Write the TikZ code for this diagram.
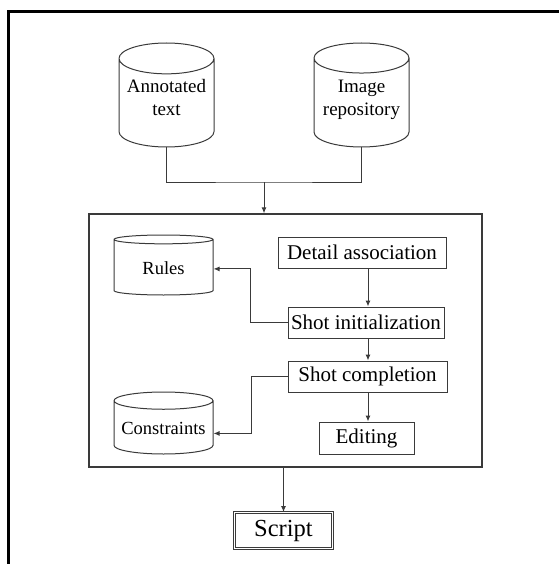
\documentclass[tikz,border=0pt]{standalone}
\usepackage{fontspec}
\setmainfont{Liberation Serif}
\usetikzlibrary{arrows.meta, positioning, calc, shapes.geometric}
\definecolor{linegray}{HTML}{3A3A3A}

\begin{document}
\begin{tikzpicture}[
    x=1pt, y=-1pt,
    >={Latex[length=6pt, width=5pt]},
    stage/.style = {draw=linegray, line width=1pt, minimum height=31pt, inner sep=2pt, font=\fontsize{21}{24}\selectfont},
    store/.style = {draw=linegray, line width=1pt, cylinder, shape border rotate=90, anchor=shape center, align=center, inner sep=1pt},
    flow/.style  = {->, draw=linegray, line width=1pt}
]
    \useasboundingbox (0,0) rectangle (559,564);

    % page frame
    \draw[line width=3pt] (8,564) -- (8,12) -- (559,12);

    \node[store, aspect=0.38, minimum width=95pt, minimum height=104pt, text depth=14pt, font=\fontsize{19}{23}\selectfont] (annot) at (166.5,95) {Annotated\\text};
    \node[store, aspect=0.38, minimum width=95pt, minimum height=104pt, text depth=14pt, font=\fontsize{19}{23}\selectfont] (imgrepo) at (361.5,95) {Image\\repository};

    \node[draw=linegray, line width=1.3pt, minimum width=393pt, minimum height=253pt] (core) at (285.5,340.5) {};

    \node[stage, minimum width=168pt] (detail) at (362,252.5) {Detail association};
    \node[stage, minimum width=156pt] (init) at (366,322.5) {Shot initialization};
    \node[stage, minimum width=159pt] (complete) at (367.5,376.5) {Shot completion};
    \node[stage, minimum width=95pt, minimum height=32pt] (edit) at (366.5,438) {Editing};

    \node[store, aspect=0.2, minimum width=99pt, minimum height=60pt, font=\fontsize{18.5}{22}\selectfont] (rules) at (163.5,265) {Rules};
    \node[store, aspect=0.2, minimum width=99pt, minimum height=62pt, font=\fontsize{18.5}{22}\selectfont] (cons) at (163.5,423) {Constraints};

    \node[draw=linegray, double, double distance=1.5pt, line width=0.8pt, minimum width=98pt, minimum height=36pt, font=\fontsize{24.5}{28}\selectfont] (script) at (283.5,530.5) {Script};

    % merge of the two stores
    \coordinate (merge) at (264,182);
    \draw[linegray, line width=1pt] (annot.south) |- (merge) -| (imgrepo.south);
    \draw[flow] (merge) -- (merge |- core.north);

    % main chain
    \coordinate (spine) at (368,0);
    \draw[flow] (detail.south -| spine) -- (init.north -| spine);
    \draw[flow] (init.south -| spine) -- (complete.north -| spine);
    \draw[flow] (complete.south -| spine) -- (edit.north -| spine);

    % side stores
    \draw[flow] (init.west) -- ++(-37,0) |- ([yshift=-1pt]rules.east);
    \draw[flow] (complete.west) -- ++(-36,0) |- ([yshift=-5pt]cons.east);

    \draw[flow] (core.south -| script) -- (script.north);
\end{tikzpicture}
\end{document}
